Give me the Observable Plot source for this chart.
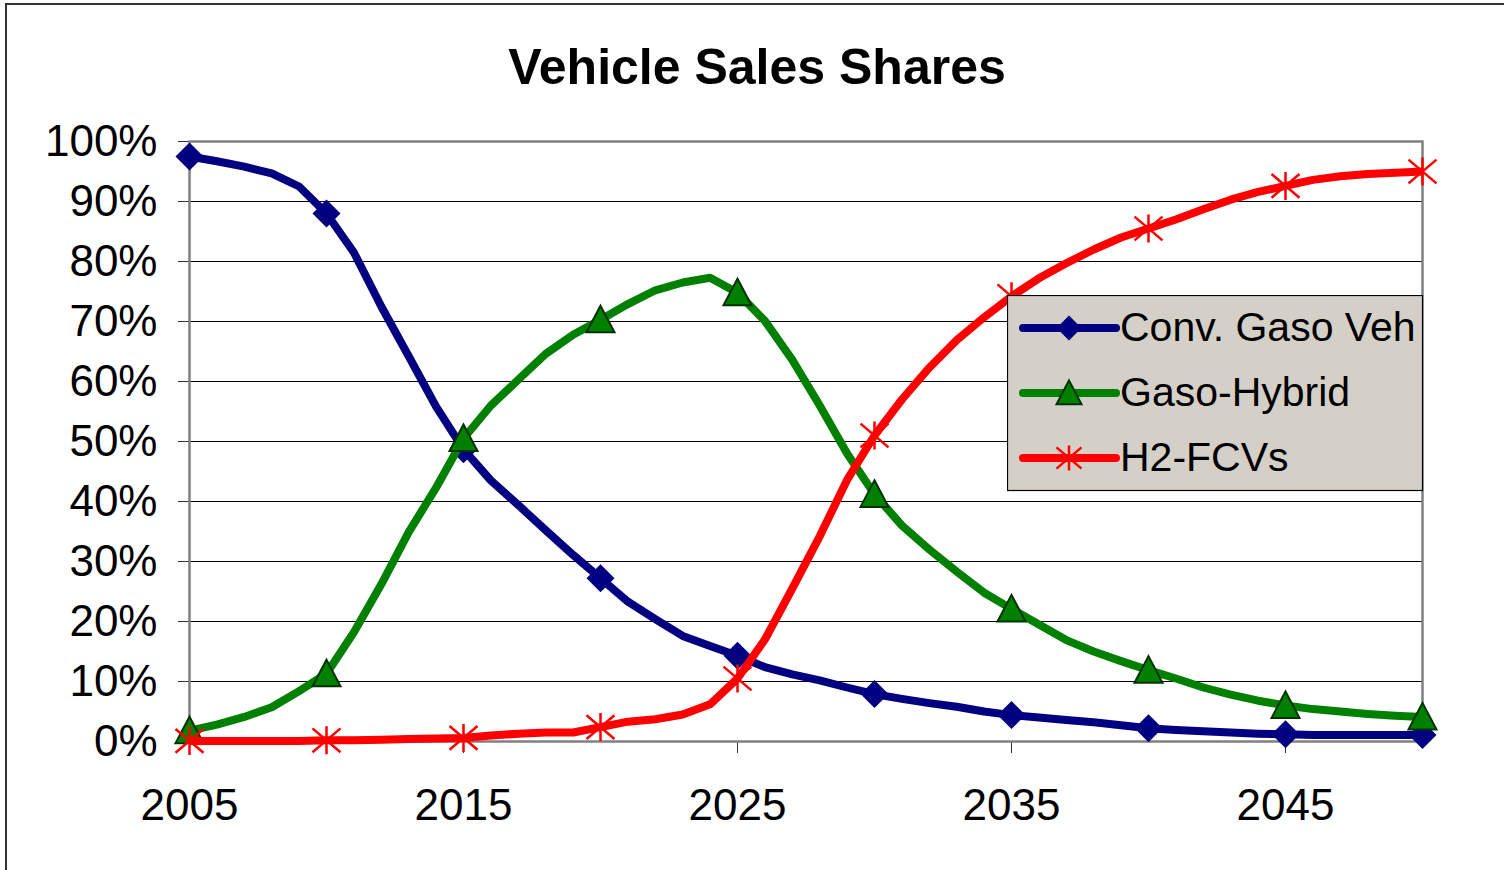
<!DOCTYPE html>
<html>
<head>
<meta charset="utf-8">
<script src="https://cdn.jsdelivr.net/npm/d3@7"></script>
<script src="https://cdn.jsdelivr.net/npm/@observablehq/plot@0.6"></script>
<style>
  html, body { margin: 0; padding: 0; background: #fff; overflow: hidden; }
  #wrap { position: relative; width: 1504px; height: 870px; font-family: "Liberation Sans", Arial, sans-serif; }
  #border { position: absolute; left: 5px; top: 3px; width: 1520px; height: 900px; border: 2px solid #333; box-sizing: border-box; pointer-events: none; }
  #title { position: absolute; left: 0; width: 1514px; top: 42px; line-height: 50px; font-size: 50px; font-weight: bold; text-align: center; color: #000; }
  #chart { position: absolute; left: 0; top: 0; }
  #legend { position: absolute; left: 1007px; top: 295px; }
</style>
</head>
<body>
<div id="wrap">
  <div id="border"></div>
  <div id="chart"></div>
  <div id="title">Vehicle Sales Shares</div>
  <div id="legend"></div>
</div>
<script>
// ---- Data ----
const years = [2005,2006,2007,2008,2009,2010,2011,2012,2013,2014,2015,2016,2017,2018,2019,2020,2021,2022,2023,2024,2025,2026,2027,2028,2029,2030,2031,2032,2033,2034,2035,2036,2037,2038,2039,2040,2041,2042,2043,2044,2045,2046,2047,2048,2049,2050];
const convGasoVeh = [97.5,96.7,95.8,94.7,92.5,88.0,81.5,72.5,64.2,55.8,48.7,43.5,39.4,35.2,31.1,27.2,23.3,20.4,17.6,15.9,14.3,12.4,11.2,10.2,9.0,7.9,7.1,6.4,5.8,5.0,4.4,4.0,3.6,3.2,2.7,2.2,1.9,1.7,1.5,1.3,1.2,1.1,1.1,1.1,1.1,1.1];
const gasoHybrid = [1.8,2.8,4.1,5.7,8.4,11.3,18.2,26.2,34.9,42.3,50.5,56.0,60.3,64.6,67.8,70.3,72.9,75.2,76.5,77.3,74.8,70.1,63.6,56.0,48.0,41.2,36.0,32.0,28.3,24.8,22.1,19.5,16.9,15.0,13.4,11.9,10.5,9.0,7.8,6.8,6.0,5.4,5.0,4.6,4.3,4.1];
const h2FCVs = [0.1,0.1,0.1,0.1,0.1,0.2,0.2,0.3,0.4,0.5,0.6,1.0,1.3,1.5,1.5,2.4,3.3,3.7,4.5,6.2,10.5,17.0,25.5,34.2,43.6,51.0,57.0,62.3,66.9,70.7,74.2,77.2,79.7,82.0,84.0,85.5,87.0,88.7,90.3,91.6,92.6,93.6,94.2,94.6,94.8,95.0];
const seriesNames = ["Conv. Gaso Veh", "Gaso-Hybrid", "H2-FCVs"];
const xTicks = [2005, 2015, 2025, 2035, 2045];
const yTicks = [0,10,20,30,40,50,60,70,80,90,100];
const gridValues = [10,20,30,40,50,60,70,80,90];

// ---- Symbols ----
const diamondSym = { draw(ctx, size) { const s = Math.sqrt(size / Math.PI); ctx.moveTo(0,-s); ctx.lineTo(s,0); ctx.lineTo(0,s); ctx.lineTo(-s,0); ctx.closePath(); } };
const triangleSym = { draw(ctx, size) { const s = Math.sqrt(size / Math.PI); ctx.moveTo(0,-s); ctx.lineTo(s,s*0.9); ctx.lineTo(-s,s*0.9); ctx.closePath(); } };
const starSym = { draw(ctx, size) { const s = Math.sqrt(size / Math.PI); ctx.moveTo(0,-s); ctx.lineTo(0,s); ctx.moveTo(-s,-0.85*s); ctx.lineTo(s,0.85*s); ctx.moveTo(-s,0.85*s); ctx.lineTo(s,-0.85*s); } };

const styles = [
  { name: seriesNames[0], values: convGasoVeh, color: "#000080", sym: diamondSym, r: 14, fill: "#000080", stroke: "none", sw: 0 },
  { name: seriesNames[1], values: gasoHybrid, color: "#008000", sym: triangleSym, r: 14, fill: "#008000", stroke: "#003300", sw: 2 },
  { name: seriesNames[2], values: h2FCVs, color: "#FF0000", sym: starSym, r: 14, fill: "none", stroke: "#FF0000", sw: 2.5 }
];

const marks = [
  Plot.ruleY(gridValues, { stroke: "#000", strokeWidth: 1 }),
  Plot.axisY({ ticks: yTicks, tickSize: 11, tickPadding: 21, tickFormat: d => d + "%", stroke: "#333", label: null }),
  Plot.axisX({ ticks: xTicks, tickSize: 12, tickPadding: 35, tickFormat: d => String(d), stroke: "#333", label: null }),
  Plot.frame({ stroke: "#808080", strokeWidth: 2.5 })
];
for (const s of styles) {
  const data = years.map((y, i) => ({ year: y, value: s.values[i], series: s.name }));
  marks.push(Plot.line(data, { x: "year", y: "value", stroke: s.color, strokeWidth: 8, strokeLinejoin: "round", strokeLinecap: "butt" }));
  marks.push(Plot.dot(data.filter(d => d.year % 5 === 0), { x: "year", y: "value", symbol: s.sym, r: s.r, fill: s.fill, stroke: s.stroke, strokeWidth: s.sw }));
}

const chart = Plot.plot({
  width: 1504,
  height: 870,
  marginLeft: 189,
  marginRight: 82,
  marginTop: 141,
  marginBottom: 129,
  style: { fontSize: "44px", fontFamily: "'Liberation Sans', Arial, sans-serif", color: "#000", background: "transparent", overflow: "visible" },
  x: { domain: [2005, 2050], type: "linear" },
  y: { domain: [0, 100] },
  marks
});
document.getElementById("chart").appendChild(chart);

// ---- Legend ----
function symPath(sym, r) { const p = d3.path(); sym.draw(p, r * r * Math.PI); return p.toString(); }
const ns = "http://www.w3.org/2000/svg";
const lg = d3.select("#legend").append("svg").attr("xmlns", ns).attr("width", 418).attr("height", 198);
lg.append("rect").attr("x", 0.5).attr("y", 0.5).attr("width", 415).attr("height", 195).attr("fill", "#D4D0C8").attr("stroke", "#000").attr("stroke-width", 1.2);
styles.forEach((s, i) => {
  const cy = 33 + i * 65;
  const g = lg.append("g");
  g.append("line").attr("x1", 16).attr("x2", 109).attr("y1", cy).attr("y2", cy).attr("stroke", s.color).attr("stroke-width", 8).attr("stroke-linecap", "round");
  g.append("path").attr("d", symPath(s.sym, 12.5)).attr("transform", `translate(62,${cy})`).attr("fill", s.fill).attr("stroke", s.stroke).attr("stroke-width", s.sw);
  g.append("text").attr("x", 113).attr("y", cy + 13).attr("font-size", 41).attr("font-family", "'Liberation Sans', Arial, sans-serif").attr("fill", "#000").text(s.name);
});
</script>
</body>
</html>
